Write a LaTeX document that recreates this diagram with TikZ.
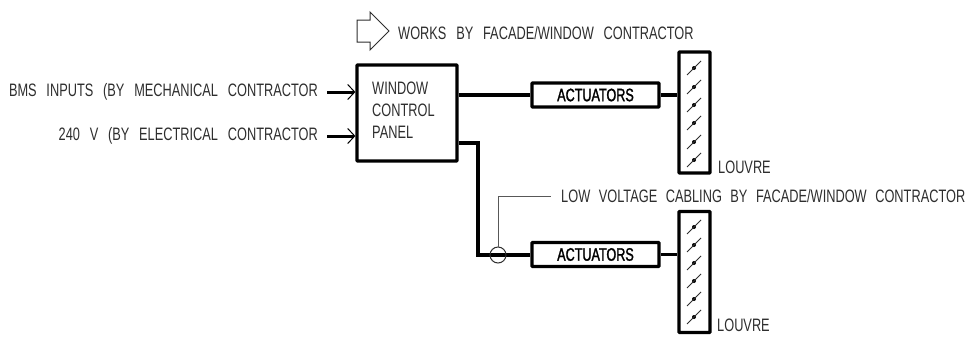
\documentclass[tikz,border=0pt]{standalone}
\usepackage{fontspec}
\setmainfont{Liberation Sans}
\newfontfamily\cadfont[FakeStretch=0.71,WordSpace=2.4]{Liberation Sans}
\newfontfamily\cadbold[FakeStretch=0.70,FakeBold=1.5]{Liberation Sans}
\usetikzlibrary{arrows.meta}
\definecolor{cadtext}{HTML}{2E2E2E}
\newcommand{\widespaces}{\spaceskip=9.8pt\relax}
\tikzset{
  x=1pt,y=-1pt,
  cadlabel/.style={inner sep=0pt,text=cadtext,font=\cadfont\fontsize{18}{18}\selectfont},
  heavybox/.style={draw=black,line width=3.2pt,rounded corners=0.6pt,inner sep=0pt,fill=white},
  panelbox/.style={heavybox,minimum width=100pt,minimum height=96pt},
  actuatorbox/.style={heavybox,minimum width=127pt,minimum height=24pt,font=\cadbold\fontsize{18}{18}\selectfont},
  louvrebox/.style={heavybox,minimum width=31pt,minimum height=121pt},
  cable/.style={line width=3.2pt},
  feed/.style={line width=3pt,-{Straight Barb[length=7pt,width=15pt,line width=1pt]},shorten >=0pt},
  leader/.style={draw=cadtext!80,line width=1pt},
  blade/.style={draw=cadtext,line width=1pt},
  pivot/.style={circle,fill=black,inner sep=0pt,minimum size=4pt},
}
\newcommand{\damper}[3]{%
  \node[pivot] (#1) at (#2,#3) {};
  \draw[blade] ([xshift=-7pt,yshift=-7pt]#1.center) -- ([xshift=7pt,yshift=7pt]#1.center);
}
\begin{document}
\begin{tikzpicture}
\useasboundingbox (0,0) rectangle (968,338);
\fill[white] (0,0) rectangle (968,338);

% legend arrow
\draw[cadtext,line width=1pt,line join=miter] (357,20) -- (370,20) -- (370,12) -- (389,31) -- (370,50) -- (370,42) -- (357,42) -- cycle;
\node[cadlabel,anchor=west] (legend) at (398,33) {\widespaces WORKS BY FACADE/WINDOW CONTRACTOR};

% panel and inputs
\node[panelbox] (panel) at (407,113) {};
\node[cadlabel,anchor=west] (pl1) at (372,88) {WINDOW};
\node[cadlabel,anchor=west] (pl2) at (372,110) {CONTROL};
\node[cadlabel,anchor=west] (pl3) at (372,132) {PANEL};

\node[cadlabel,anchor=east] (bms) at (318,92) {\widespaces BMS INPUTS (BY MECHANICAL CONTRACTOR};
\node[cadlabel,anchor=east] (elec) at (318,136) {\widespaces 240 V (BY ELECTRICAL CONTRACTOR};
\coordinate (bmsstart) at (327,92);
\coordinate (elecstart) at (327,136);
\coordinate (bmsend) at (panel.west |- bmsstart);
\coordinate (elecend) at (panel.west |- elecstart);
\draw[feed] (bmsstart) -- (bmsend);
\draw[feed] (elecstart) -- (elecend);

% top branch
\node[actuatorbox] (act1) at (595.5,95) {ACTUATORS};
\node[louvrebox] (lv1) at (694.5,112.5) {};
\draw[cable] (panel.east |- act1) -- (act1.west);
\draw[cable] (act1.east) -- (lv1.west |- act1);
\node[cadlabel,anchor=west] (lvt1) at (718,167) {LOUVRE};
\foreach \n/\y in {a/68,b/87,c/105,d/123,e/142,f/160}{\damper{t\n}{694}{\y}}

% bottom branch
\node[actuatorbox] (act2) at (595.5,254.5) {ACTUATORS};
\node[louvrebox] (lv2) at (694.5,272) {};
\coordinate (bend1) at (478,143);
\coordinate (bend2) at (478,255);
\draw[cable,line join=miter] (panel.east |- bend1) -- (bend1) -- (bend2) -- (act2.west |- bend2);
\draw[cable] (act2.east) -- (lv2.west |- act2);
\node[cadlabel,anchor=west] (lvt2) at (717,325) {LOUVRE};
\foreach \n/\y in {a/227,b/245,c/263,d/281,e/299,f/317}{\damper{u\n}{694}{\y}}

% cable callout
\node[circle,draw=cadtext,line width=1pt,minimum size=16pt,inner sep=0pt] (ring) at (498,255) {};
\node[cadlabel,anchor=west] (lowv) at (561,196) {LOW VOLTAGE CABLING BY FACADE/WINDOW CONTRACTOR};
\coordinate (leadcorner) at (498,196);
\coordinate (leadend) at (551,196);
\draw[leader] (ring.north) -- (leadcorner) -- (leadend);
\end{tikzpicture}
\end{document}
